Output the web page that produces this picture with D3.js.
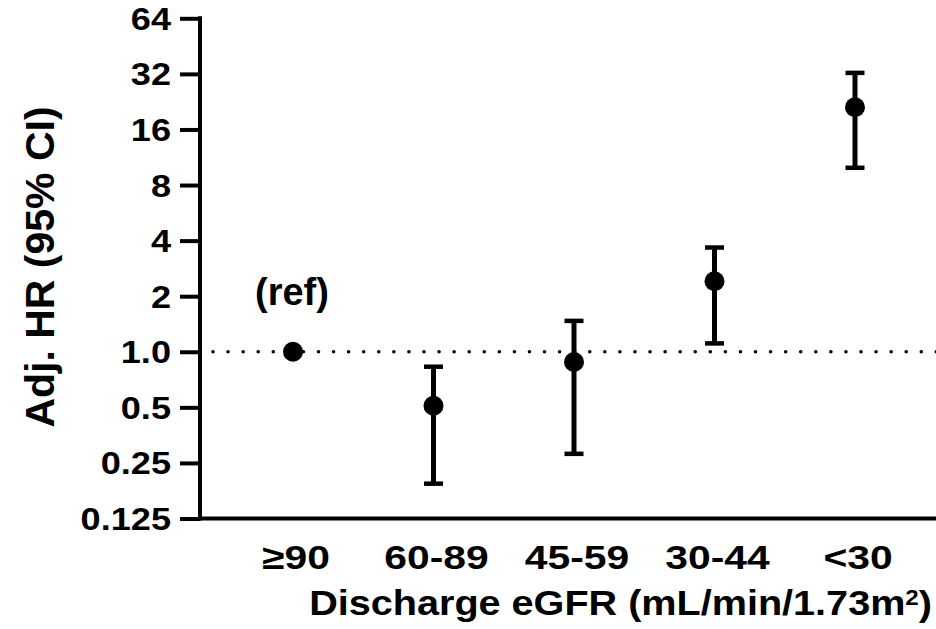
<!DOCTYPE html>
<html>
<head>
<meta charset="utf-8">
<script src="https://cdn.jsdelivr.net/npm/d3@7"></script>
<style>
  html, body { margin: 0; padding: 0; background: #fff; }
  svg { display: block; }
  text { font-family: "Liberation Sans", Arial, sans-serif; font-weight: bold; fill: #000; }
</style>
</head>
<body>
<svg id="chart" width="936" height="629"></svg>
<script>
// ---- data ----
const categories = ["\u226590", "60-89", "45-59", "30-44", "<30"];
const hrValues   = [1.0, 0.51, 0.88, 2.41, 21.1];
const ciLower    = [null, 0.193, 0.28, 1.11, 9.92];
const ciUpper    = [null, 0.83, 1.47, 3.67, 32.4];
const yTickValues = [0.125, 0.25, 0.5, 1, 2, 4, 8, 16, 32, 64];
const yTickLabels = ["0.125", "0.25", "0.5", "1.0", "2", "4", "8", "16", "32", "64"];
const refLabel = "(ref)";
const yTitle = "Adj. HR (95% CI)";
const xTitle = "Discharge eGFR (mL/min/1.73m";

const W = 936, H = 629;
const svg = d3.select("#chart");

const x = d3.scalePoint().domain(categories).range([293, 855]);
const y = d3.scaleLog().base(2).domain([0.125, 64]).range([518.5, 18.3]);

const axisX = 200, axisY = 518.5;

// dotted reference line at HR = 1
svg.append("line")
  .attr("x1", 213).attr("x2", W + 5)
  .attr("y1", y(1)).attr("y2", y(1))
  .attr("stroke", "#000").attr("stroke-width", 3.6)
  .attr("stroke-linecap", "round")
  .attr("stroke-dasharray", "0,15.07");

// Y axis ticks (labels drawn separately so they can be widened)
const yAxis = d3.axisLeft(y)
  .tickValues(yTickValues)
  .tickFormat("")
  .tickSize(20);
const gy = svg.append("g").attr("transform", `translate(${axisX},0)`).call(yAxis);
gy.select(".domain").remove();
gy.selectAll(".tick line").attr("stroke", "#000").attr("stroke-width", 4);
gy.selectAll(".tick text").remove();

svg.append("g").selectAll("text").data(yTickValues).join("text")
  .attr("transform", d => `translate(171,${y(d) + 11.5}) scale(1.13,1)`)
  .attr("text-anchor", "end")
  .style("font-size", "32px")
  .text((d, i) => yTickLabels[i]);

svg.append("line")
  .attr("x1", axisX).attr("x2", axisX)
  .attr("y1", y(64) - 2).attr("y2", axisY + 2)
  .attr("stroke", "#000").attr("stroke-width", 4);

// X axis line
svg.append("line")
  .attr("x1", axisX - 2).attr("x2", W)
  .attr("y1", axisY).attr("y2", axisY)
  .attr("stroke", "#000").attr("stroke-width", 4);

// X tick labels
svg.append("g").selectAll("text").data(categories).join("text")
  .attr("transform", d => `translate(${x(d) + 3},569) scale(1.2,1)`)
  .attr("text-anchor", "middle")
  .style("font-size", "34px")
  .text(d => d);

// error bars
const rows = categories.map((c, i) => ({c, hr: hrValues[i], lo: ciLower[i], hi: ciUpper[i]}));
const eb = svg.append("g");
rows.filter(r => r.lo != null).forEach(r => {
  const cx = x(r.c);
  eb.append("line").attr("x1", cx).attr("x2", cx)
    .attr("y1", y(r.lo)).attr("y2", y(r.hi))
    .attr("stroke", "#000").attr("stroke-width", 5);
  [r.lo, r.hi].forEach(v => {
    eb.append("line").attr("x1", cx - 9.5).attr("x2", cx + 9.5)
      .attr("y1", y(v)).attr("y2", y(v))
      .attr("stroke", "#000").attr("stroke-width", 4.5);
  });
});

// points
svg.append("g").selectAll("circle").data(rows).join("circle")
  .attr("cx", d => x(d.c)).attr("cy", d => y(d.hr))
  .attr("r", 10).attr("fill", "#000");

// (ref) label
svg.append("text")
  .attr("x", x(categories[0]) - 1).attr("y", 305)
  .attr("text-anchor", "middle")
  .style("font-size", "38px")
  .text(refLabel);

// Y title
svg.append("text")
  .attr("transform", "translate(54,267) rotate(-90)")
  .attr("text-anchor", "middle")
  .style("font-size", "41px")
  .text(yTitle);

// X title
const xt = svg.append("text")
  .attr("transform", "translate(932,615) scale(1.1,1)")
  .attr("text-anchor", "end")
  .style("font-size", "36px");
xt.append("tspan").text(xTitle);
xt.append("tspan").attr("dy", "-0.45em").style("font-size", "22px").text("2");
xt.append("tspan").attr("dy", "0.3em").text(")");
</script>
</body>
</html>
